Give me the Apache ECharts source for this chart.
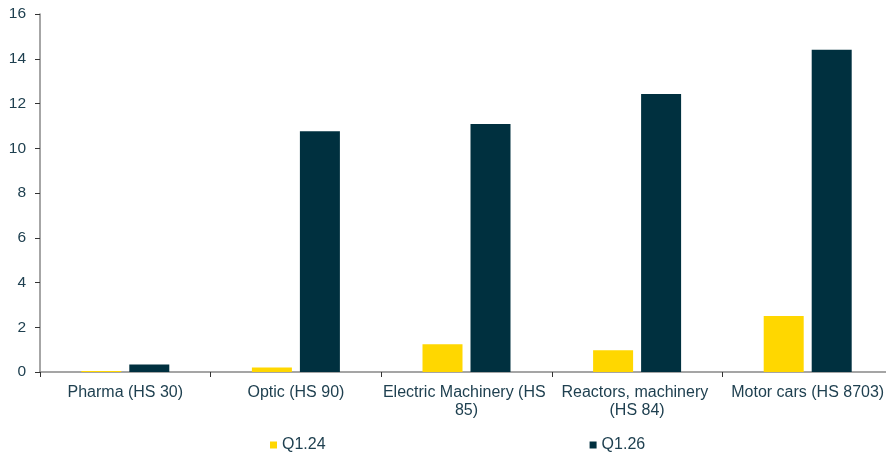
<!DOCTYPE html>
<html>
<head>
<meta charset="utf-8">
<script src="https://cdn.jsdelivr.net/npm/echarts@6/dist/echarts.min.js"></script>
<style>
html,body{margin:0;padding:0;background:#fff;}
#chart{width:886px;height:455px;}
</style>
</head>
<body>
<div id="chart"></div>
<script>
var categories = ["Pharma (HS 30)", "Optic (HS 90)", "Electric Machinery (HS 85)", "Reactors, machinery (HS 84)", "Motor cars (HS 8703)"];
var seriesNames = ["Q1.24", "Q1.26"];
var q124 = [0.04, 0.2, 1.24, 0.97, 2.5];
var q126 = [0.33, 10.76, 11.08, 12.42, 14.4];
var yTicks = [0, 2, 4, 6, 8, 10, 12, 14, 16];

var textColor = "#1f4050";
var font = "Liberation Sans, Arial, sans-serif";
var chart = echarts.init(document.getElementById("chart"), null, {renderer: "canvas"});
chart.setOption({
  animation: false,
  textStyle: {fontFamily: font, color: textColor},
  grid: {left: 40, width: 853, top: 14, bottom: 83, containLabel: false, outerBoundsMode: "none"},
  legend: {
    data: seriesNames,
    left: 270,
    top: 437,
    padding: 0,
    itemWidth: 7,
    itemHeight: 7,
    itemGap: 264,
    icon: "rect",
    textStyle: {fontFamily: font, fontSize: 16, color: textColor}
  },
  xAxis: {
    type: "category",
    data: categories,
    axisLine: {lineStyle: {color: "#888888", width: 1.5}},
    axisTick: {show: true, length: 5, lineStyle: {color: "#333"}},
    axisLabel: {
      interval: 0,
      margin: 12,
      fontFamily: font,
      fontSize: 16,
      color: textColor,
      width: 168,
      overflow: "break",
      lineHeight: 18
    }
  },
  yAxis: {
    type: "value",
    min: yTicks[0],
    max: yTicks[yTicks.length - 1],
    interval: 2,
    splitLine: {show: false},
    axisLine: {show: true, lineStyle: {color: "#888888", width: 1.5}},
    axisTick: {show: true, length: 5, lineStyle: {color: "#333"}},
    axisLabel: {margin: 14, fontFamily: font, fontSize: 15.5, color: textColor}
  },
  series: [
    {
      name: seriesNames[0],
      type: "bar",
      data: q124,
      barWidth: 40,
      barGap: "20%",
      itemStyle: {color: "#FFD700"}
    },
    {
      name: seriesNames[1],
      type: "bar",
      data: q126,
      barWidth: 40,
      itemStyle: {color: "#00303F"}
    }
  ]
});
</script>
</body>
</html>
